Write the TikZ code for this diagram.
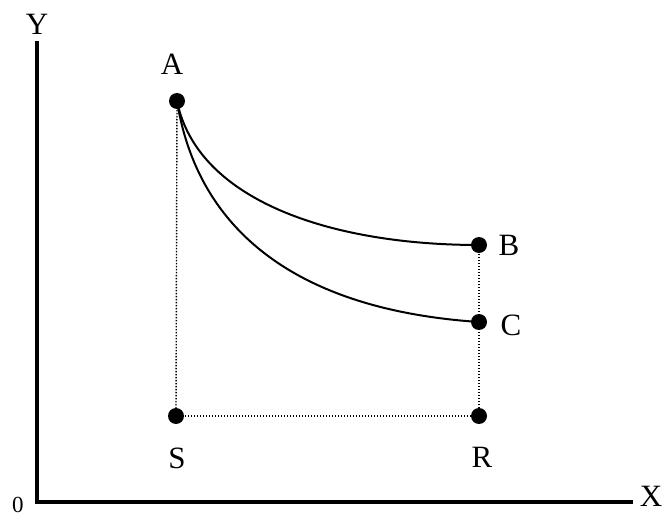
\documentclass[tikz,border=0pt]{standalone}
\usepackage{fontspec}
\setmainfont{Liberation Serif}
\begin{document}
\begin{tikzpicture}[x=1pt,y=-1pt,
  pt/.style={circle,fill=black,inner sep=0pt,minimum size=16pt},
  lbl/.style={inner sep=0pt,font=\fontsize{31}{31}\selectfont},
  axis/.style={line width=3.2pt},
  curve/.style={line width=2pt},
  guide/.style={line width=1.4pt,dash pattern=on 1.4pt off 1.6pt}]
\useasboundingbox (0,0) rectangle (662,516);
% axes
\coordinate (O) at (37,502);
\coordinate (Ytop) at (37,41);
\coordinate (Xend) at (633,502);
\draw[axis] (Ytop) -- (37,503.6);
\draw[axis] (35.4,502) -- (Xend);
\node[lbl] (ylab) at (37,24) {Y};
\node[lbl] (xlab) at (651,496) {X};
\node[inner sep=0pt,font=\fontsize{23}{23}\selectfont] (zero) at (18,504.5) {0};
% points
\node[pt] (A) at (177,101) {};
\node[pt] (B) at (479,245) {};
\node[pt] (C) at (479,322) {};
\node[pt] (S) at (176,416) {};
\node[pt] (R) at (479,416) {};
\node[lbl] (la) at (172,64) {A};
\node[lbl] (lb) at (509,245) {B};
\node[lbl] (lc) at (511,325) {C};
\node[lbl] (ls) at (177,458) {S};
\node[lbl] (lr) at (482,457) {R};
% dotted guides
\draw[guide] (A.center) -- (S.center);
\draw[guide] (S.center) -- (R.center);
\draw[guide] (B.center) -- (R.center);
% curves
\draw[curve] (A.center) .. controls (197,200) and (330,245) .. (B.center);
\draw[curve] (A.center) .. controls (198,233) and (300,310) .. (C.center);
\end{tikzpicture}
\end{document}
